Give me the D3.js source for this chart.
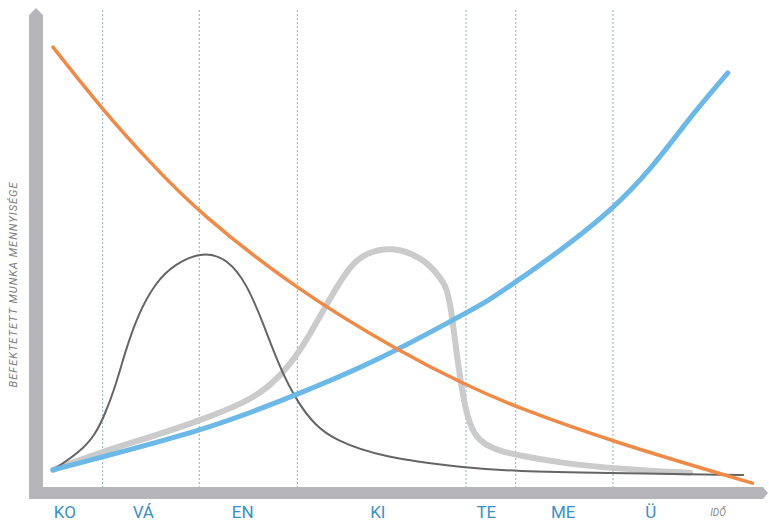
<!DOCTYPE html>
<html>
<head>
<meta charset="utf-8">
<script src="https://cdn.jsdelivr.net/npm/d3@7"></script>
<style>
  body { margin: 0; background: #fff; }
  svg { display: block; }
</style>
</head>
<body>
<div id="chart"></div>
<script>
// szakaszok (x tengely)
let phases = ['KO', 'VÁ', 'EN', 'KI', 'TE', 'ME', 'Ü'];
let phaseCenters = [1.7, 12.9, 27.1, 46.4, 61.9, 72.9, 85.4];
let phaseBounds = [7.1, 20.9, 34.9, 59, 66.1, 80];

let axisTitle = 'BEFEKTETETT MUNKA MENNYISÉGE';
let timeLabel = 'IDŐ';

// görbék (idő, mennyiség) 0-100 skálán
let orangeX = [0, 7.1, 13.9, 20.9, 34.9, 49.6, 59, 66.1, 80, 99.9];
let orangeY = [99.5, 84.9, 72.6, 60.9, 43.0, 28.6, 20.9, 15.8, 7.7, -1.9];

let blueX = [0, 20.9, 34.9, 46.7, 59, 66.1, 80, 90, 96.4];
let blueY = [1.2, 10.5, 18.8, 27.2, 37.7, 44.9, 62.3, 80.9, 93.5];

let darkX = [0, 3.9, 6, 7.4, 8.9, 10.3, 12.1, 14.6, 17.4, 21.4, 25, 27.7, 30, 32.4, 34.9, 37.4, 40.3, 46.7, 59, 66.1, 78.1, 98.6];
let darkY = [1.2, 5.4, 9.3, 14, 20.5, 28.6, 37.2, 44.7, 49.1, 52, 50.2, 44.4, 35.4, 24.9, 17, 11.6, 8.1, 4.2, 1.6, 0.9, 0.5, 0];

let greyX = [0, 7, 13.9, 20.9, 27.7, 31, 33.9, 36.7, 39.6, 42.4, 44.6, 48.4, 52.9, 55.3, 56.3, 57, 57.6, 58.3, 59.1, 60.1, 61.7, 63.9, 66.1, 72.4, 81, 91];
let greyY = [1.2, 5.4, 8.8, 12.6, 17, 20.7, 25.6, 32.6, 41.2, 48.6, 51.6, 53.2, 50.5, 46, 43.5, 37.2, 29.1, 20.9, 14, 9.5, 7, 5.6, 4.7, 2.8, 1.4, 0.5];

let svg = d3.select('#chart')
    .append('svg')
    .attr('width', 769)
    .attr('height', 523);

let x = d3.scaleLinear().domain([0, 100]).range([53, 753]);
let y = d3.scaleLinear().domain([0, 100]).range([475, 45]);

let axisGrey = '#b5b5ba';
let left = 29, axisW = 14, bottom = 487, axisH = 12;

// szaggatott elválasztók
svg.append('g')
    .selectAll('line')
    .data(phaseBounds)
    .join('line')
    .attr('x1', d => x(d))
    .attr('x2', d => x(d))
    .attr('y1', 10)
    .attr('y2', bottom)
    .attr('stroke', '#8fb0c6')
    .attr('stroke-width', 1)
    .attr('stroke-dasharray', '2,2');

// tengelyek
svg.append('path')
    .attr('fill', axisGrey)
    .attr('d', 'M' + left + ',' + (bottom + axisH) + 'V15L' + (left + axisW / 2) + ',8L' + (left + axisW) + ',15V' + bottom +
        'H763L768,' + (bottom + axisH / 2) + 'L763,' + (bottom + axisH) + 'Z');

// görbék
function drawLine(xs, ys, color, width, curve) {
    let pts = xs.map((d, i) => [d, ys[i]]);
    let line = d3.line()
        .x(d => x(d[0]))
        .y(d => y(d[1]))
        .curve(curve);
    svg.append('path')
        .datum(pts)
        .attr('fill', 'none')
        .attr('stroke', color)
        .attr('stroke-width', width)
        .attr('stroke-linecap', 'round')
        .attr('d', line);
}

drawLine(greyX, greyY, '#cbcbcb', 6, d3.curveBasis);
drawLine(darkX, darkY, '#656565', 2, d3.curveBasis);
drawLine(blueX, blueY, '#6cb8e6', 5, d3.curveNatural);
drawLine(orangeX, orangeY, '#f08a47', 3.5, d3.curveBasis);

// x címkék
svg.append('g')
    .selectAll('text')
    .data(phases)
    .join('text')
    .attr('x', (d, i) => x(phaseCenters[i]))
    .attr('y', 518)
    .attr('text-anchor', 'middle')
    .attr('fill', '#3a8fc8')
    .style('font-family', 'Liberation Sans Narrow, Roboto, sans-serif')
    .style('font-size', '17px')
    .text(d => d);

svg.append('text')
    .attr('x', x(95))
    .attr('y', 516)
    .attr('text-anchor', 'middle')
    .attr('fill', '#8a8a8a')
    .style('font-family', 'Liberation Sans Narrow, Roboto, sans-serif')
    .style('font-style', 'italic')
    .style('font-size', '10px')
    .text(timeLabel);

svg.append('text')
    .attr('transform', 'translate(17,285) rotate(-90)')
    .attr('text-anchor', 'middle')
    .attr('fill', '#7d7d7d')
    .attr('textLength', 205)
    .style('font-family', 'Liberation Sans Narrow, Roboto, sans-serif')
    .style('font-style', 'italic')
    .style('font-size', '11px')
    .text(axisTitle);
</script>
</body>
</html>
